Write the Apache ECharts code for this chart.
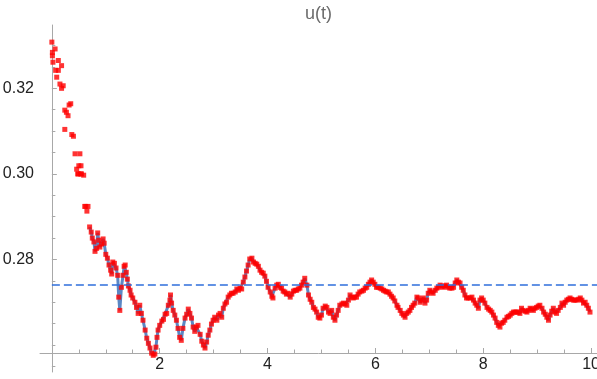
<!DOCTYPE html>
<html>
<head>
<meta charset="utf-8">
<script src="https://cdn.jsdelivr.net/npm/echarts@6/dist/echarts.min.js"></script>
<style>
  html, body { margin: 0; padding: 0; background: #fff; }
  #chart { width: 597px; height: 379px; }
</style>
</head>
<body>
<div id="chart"></div>
<script>
// early samples (drawn as points only, before the line starts)
const earlyT = [0.00, 0.01, 0.01, 0.02, 0.06, 0.07, 0.09, 0.12, 0.12, 0.15,
                0.18, 0.18, 0.21, 0.24, 0.24, 0.27, 0.30, 0.32, 0.35, 0.37,
                0.40, 0.43, 0.46, 0.48, 0.49, 0.50, 0.52, 0.53, 0.54, 0.55,
                0.59, 0.61, 0.63, 0.65, 0.67];
const earlyU = [0.3308, 0.3284, 0.3276, 0.3261, 0.3292, 0.3242, 0.3226, 0.3265, 0.3242, 0.3210,
                0.3253, 0.3200, 0.3206, 0.3149, 0.3104, 0.3144, 0.3136, 0.3161, 0.3164, 0.3092,
                0.3088, 0.3047, 0.3011, 0.3000, 0.3000, 0.3019, 0.3047, 0.3000, 0.3019, 0.3000,
                0.2997, 0.2924, 0.2924, 0.2913, 0.2924];

// main samples (points + line)
const t = [
  0.70, 0.73, 0.75, 0.78, 0.80, 0.83, 0.85, 0.87, 0.89, 0.92,
  0.95, 0.97, 1.00, 1.03, 1.06, 1.09, 1.11, 1.13, 1.16, 1.19,
  1.22, 1.24, 1.26, 1.29, 1.32, 1.34, 1.36, 1.38, 1.40, 1.42,
  1.45, 1.47, 1.50, 1.54, 1.57, 1.60, 1.63, 1.66, 1.69, 1.73,
  1.76, 1.79, 1.82, 1.85, 1.88, 1.91, 1.93, 1.95, 1.97, 2.00,
  2.04, 2.07, 2.10, 2.13, 2.16, 2.19, 2.20, 2.22, 2.25, 2.28,
  2.31, 2.34, 2.37, 2.40, 2.43, 2.47, 2.50, 2.53, 2.56, 2.59,
  2.62, 2.65, 2.68, 2.71, 2.75, 2.78, 2.81, 2.84, 2.87, 2.90,
  2.93, 2.96, 2.99, 3.02, 3.06, 3.09, 3.12, 3.15, 3.18, 3.21,
  3.24, 3.27, 3.30, 3.33, 3.36, 3.40, 3.43, 3.46, 3.49, 3.52,
  3.55, 3.58, 3.61, 3.64, 3.67, 3.71, 3.74, 3.77, 3.80, 3.83,
  3.86, 3.89, 3.92, 3.95, 3.98, 4.01, 4.05, 4.08, 4.10, 4.14,
  4.17, 4.20, 4.23, 4.26, 4.29, 4.32, 4.35, 4.38, 4.42, 4.45,
  4.48, 4.51, 4.54, 4.57, 4.60, 4.63, 4.66, 4.69, 4.73, 4.76,
  4.79, 4.82, 4.85, 4.88, 4.91, 4.94, 4.97, 5.00, 5.03, 5.07,
  5.10, 5.13, 5.16, 5.19, 5.22, 5.25, 5.28, 5.31, 5.34, 5.38,
  5.41, 5.44, 5.47, 5.50, 5.53, 5.56, 5.59, 5.62, 5.65, 5.68,
  5.71, 5.75, 5.78, 5.81, 5.84, 5.87, 5.90, 5.93, 5.96, 5.99,
  6.02, 6.05, 6.09, 6.12, 6.15, 6.18, 6.21, 6.24, 6.27, 6.30,
  6.33, 6.36, 6.40, 6.42, 6.46, 6.49, 6.52, 6.55, 6.58, 6.61,
  6.64, 6.67, 6.70, 6.73, 6.77, 6.80, 6.83, 6.86, 6.89, 6.92,
  6.95, 6.98, 7.01, 7.04, 7.07, 7.11, 7.14, 7.17, 7.20, 7.23,
  7.26, 7.29, 7.32, 7.35, 7.38, 7.42, 7.45, 7.48, 7.51, 7.54,
  7.57, 7.60, 7.63, 7.66, 7.69, 7.72, 7.76, 7.79, 7.82, 7.85,
  7.88, 7.91, 7.94, 7.97, 8.00, 8.03, 8.07, 8.10, 8.13, 8.16,
  8.19, 8.22, 8.25, 8.28, 8.31, 8.34, 8.37, 8.40, 8.44, 8.47,
  8.50, 8.53, 8.56, 8.59, 8.62, 8.65, 8.68, 8.71, 8.74, 8.78,
  8.81, 8.84, 8.87, 8.90, 8.93, 8.96, 8.99, 9.02, 9.05, 9.09,
  9.12, 9.15, 9.18, 9.21, 9.24, 9.27, 9.30, 9.33, 9.36, 9.39,
  9.43, 9.46, 9.49, 9.52, 9.55, 9.58, 9.61, 9.64, 9.67, 9.70,
  9.74, 9.77, 9.80, 9.83, 9.86, 9.89, 9.92, 9.95, 9.98
];
const u = [
  0.2876, 0.2864, 0.2850, 0.2841, 0.2819, 0.2826, 0.2862, 0.2845, 0.2829, 0.2836,
  0.2848, 0.2838, 0.2812, 0.2803, 0.2787, 0.2775, 0.2766, 0.2794, 0.2791, 0.2780,
  0.2763, 0.2712, 0.2681, 0.2735, 0.2763, 0.2784, 0.2787, 0.2770, 0.2754, 0.2738,
  0.2728, 0.2717, 0.2710, 0.2700, 0.2688, 0.2674, 0.2693, 0.2674, 0.2658, 0.2635,
  0.2616, 0.2604, 0.2593, 0.2581, 0.2576, 0.2579, 0.2595, 0.2618, 0.2635, 0.2646,
  0.2656, 0.2660, 0.2672, 0.2674, 0.2693, 0.2705, 0.2717, 0.2698, 0.2681, 0.2670,
  0.2658, 0.2639, 0.2618, 0.2611, 0.2639, 0.2663, 0.2672, 0.2684, 0.2674, 0.2663,
  0.2642, 0.2632, 0.2642, 0.2646, 0.2625, 0.2609, 0.2600, 0.2593, 0.2607, 0.2623,
  0.2635, 0.2649, 0.2658, 0.2665, 0.2658, 0.2670, 0.2674, 0.2665, 0.2686, 0.2696,
  0.2700, 0.2712, 0.2717, 0.2721, 0.2721, 0.2724, 0.2731, 0.2728, 0.2733, 0.2731,
  0.2747, 0.2759, 0.2773, 0.2787, 0.2801, 0.2803, 0.2794, 0.2791, 0.2789, 0.2784,
  0.2775, 0.2770, 0.2768, 0.2761, 0.2749, 0.2735, 0.2724, 0.2714, 0.2710, 0.2733,
  0.2740, 0.2742, 0.2735, 0.2733, 0.2726, 0.2724, 0.2719, 0.2721, 0.2712, 0.2719,
  0.2726, 0.2728, 0.2728, 0.2731, 0.2733, 0.2740, 0.2747, 0.2756, 0.2740, 0.2717,
  0.2707, 0.2700, 0.2688, 0.2684, 0.2677, 0.2665, 0.2663, 0.2670, 0.2686, 0.2691,
  0.2688, 0.2677, 0.2674, 0.2681, 0.2665, 0.2658, 0.2670, 0.2681, 0.2693, 0.2696,
  0.2698, 0.2696, 0.2693, 0.2705, 0.2717, 0.2712, 0.2710, 0.2712, 0.2712, 0.2719,
  0.2724, 0.2726, 0.2728, 0.2733, 0.2735, 0.2742, 0.2747, 0.2752, 0.2747, 0.2742,
  0.2735, 0.2735, 0.2733, 0.2731, 0.2728, 0.2726, 0.2724, 0.2724, 0.2719, 0.2714,
  0.2710, 0.2703, 0.2693, 0.2688, 0.2681, 0.2674, 0.2670, 0.2665, 0.2674, 0.2677,
  0.2681, 0.2688, 0.2693, 0.2698, 0.2712, 0.2710, 0.2700, 0.2705, 0.2710, 0.2698,
  0.2705, 0.2721, 0.2728, 0.2724, 0.2721, 0.2728, 0.2733, 0.2735, 0.2740, 0.2738,
  0.2735, 0.2738, 0.2740, 0.2735, 0.2733, 0.2733, 0.2735, 0.2745, 0.2752, 0.2747,
  0.2745, 0.2735, 0.2728, 0.2717, 0.2710, 0.2710, 0.2710, 0.2712, 0.2705, 0.2698,
  0.2693, 0.2686, 0.2705, 0.2710, 0.2705, 0.2698, 0.2688, 0.2684, 0.2681, 0.2677,
  0.2670, 0.2663, 0.2653, 0.2646, 0.2642, 0.2651, 0.2653, 0.2658, 0.2665, 0.2667,
  0.2670, 0.2674, 0.2677, 0.2677, 0.2677, 0.2677, 0.2674, 0.2686, 0.2681, 0.2679,
  0.2677, 0.2681, 0.2686, 0.2684, 0.2681, 0.2686, 0.2688, 0.2691, 0.2693, 0.2686,
  0.2677, 0.2672, 0.2665, 0.2658, 0.2670, 0.2679, 0.2686, 0.2677, 0.2674, 0.2681,
  0.2688, 0.2698, 0.2693, 0.2700, 0.2705, 0.2707, 0.2710, 0.2707, 0.2705, 0.2705,
  0.2705, 0.2707, 0.2710, 0.2705, 0.2698, 0.2700, 0.2693, 0.2686, 0.2677
];

const meanLevel = 0.2742;

const xMajorTicks = [2, 4, 6, 8, 10];
const xMinorTicks = [0.5, 1, 1.5, 2.5, 3, 3.5, 4.5, 5, 5.5, 6.5, 7, 7.5, 8.5, 9, 9.5];
const yMajorTicks = [0.28, 0.30, 0.32];
const yMinorTicks = [0.255, 0.26, 0.265, 0.27, 0.275, 0.285, 0.29, 0.295,
                     0.305, 0.31, 0.315, 0.325, 0.33];

const axisColor = '#a8a8a8';
const font = "'Liberation Sans', Arial, sans-serif";
const xRange = [-0.22, 10.11];
const yRange = [0.2537, 0.3348];

const points = earlyT.map((x, i) => [x, earlyU[i]])
  .concat(t.map((x, i) => [x, u[i]]));
const linePts = t.map((x, i) => [x, u[i]]);

const chart = echarts.init(document.getElementById('chart'));

function xAxisDef(ticks, len, showLine, showLabel) {
  return {
    type: 'value', min: xRange[0], max: xRange[1], position: 'bottom', offset: -19,
    axisLine: { show: showLine, onZero: false, lineStyle: { color: axisColor, width: 1 } },
    axisTick: { show: true, inside: true, length: len, customValues: ticks,
                lineStyle: { color: axisColor } },
    axisLabel: { show: showLabel, customValues: ticks, fontSize: 16, color: '#222',
                 fontFamily: font, margin: 4 },
    splitLine: { show: false }
  };
}

function yAxisDef(ticks, len, showLine, showLabel) {
  return {
    type: 'value', min: yRange[0], max: yRange[1], position: 'left',
    axisLine: { show: showLine, onZero: true, onZeroAxisIndex: 0,
                lineStyle: { color: axisColor, width: 1 } },
    axisTick: { show: true, inside: true, length: len, customValues: ticks,
                lineStyle: { color: axisColor } },
    axisLabel: { show: showLabel, customValues: ticks, fontSize: 16, color: '#222',
                 fontFamily: font, margin: 6,
                 formatter: v => v.toFixed(2) },
    splitLine: { show: false }
  };
}

chart.setOption({
  animation: false,
  title: {
    text: 'u(t)', left: 305, top: 5, padding: 0,
    textStyle: { fontSize: 18, fontWeight: 'normal', color: '#6b6b6b', fontFamily: font }
  },
  grid: { left: 40, right: 0, top: 25, bottom: 7, outerBoundsMode: 'none' },
  xAxis: [
    xAxisDef(xMajorTicks, 5, true, true),
    xAxisDef(xMinorTicks, 3.5, false, false)
  ],
  yAxis: [
    yAxisDef(yMajorTicks, 5, true, true),
    yAxisDef(yMinorTicks, 3.5, false, false)
  ],
  series: [
    {
      type: 'line',
      data: linePts,
      showSymbol: false,
      symbol: 'none',
      lineStyle: { color: '#5b87c4', width: 3 },
      z: 2,
      markLine: {
        silent: true,
        symbol: 'none',
        label: { show: false },
        lineStyle: { color: '#2f6fdc', width: 1.6, type: [8, 4] },
        data: [[{ coord: [0, meanLevel] }, { coord: [xRange[1], meanLevel] }]]
      }
    },
    {
      type: 'scatter',
      data: points,
      symbol: 'rect',
      symbolSize: 5,
      itemStyle: { color: '#ff0000' },
      z: 3
    }
  ]
});
</script>
</body>
</html>
